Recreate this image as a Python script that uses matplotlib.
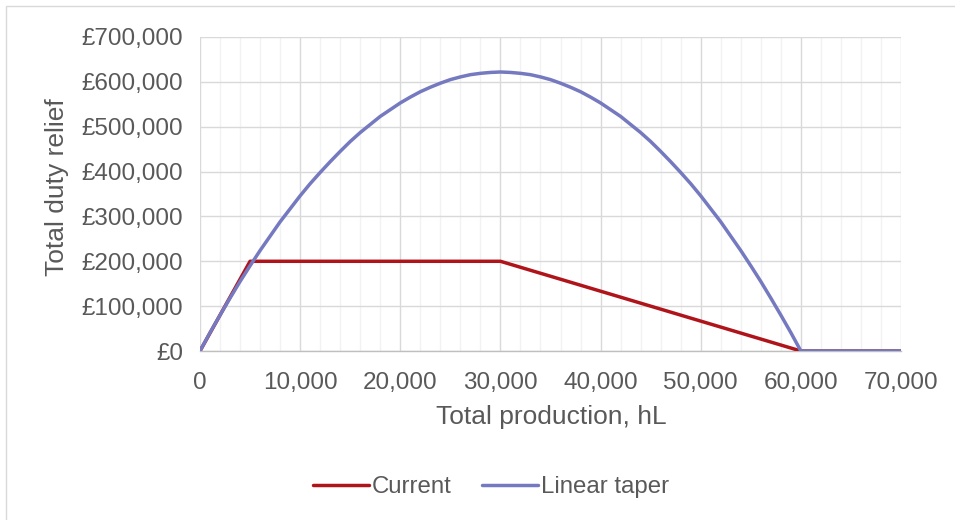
import matplotlib
matplotlib.use("Agg")
import matplotlib.pyplot as plt
from matplotlib.ticker import MultipleLocator, FuncFormatter
from matplotlib.patches import Rectangle

plt.rcParams['font.family'] = ['Liberation Sans', 'DejaVu Sans']

# Data
production = [0, 5000, 30000, 60000, 70000]
current = [0, 200000, 200000, 0, 0]

taper_x = [0, 1000, 2000, 3000, 4000, 5000, 6000, 7000, 8000, 9000,
           10000, 11000, 12000, 13000, 14000, 15000, 16000, 17000, 18000, 19000,
           20000, 21000, 22000, 23000, 24000, 25000, 26000, 27000, 28000, 29000,
           30000, 31000, 32000, 33000, 34000, 35000, 36000, 37000, 38000, 39000,
           40000, 41000, 42000, 43000, 44000, 45000, 46000, 47000, 48000, 49000,
           50000, 51000, 52000, 53000, 54000, 55000, 56000, 57000, 58000, 59000,
           60000, 70000]
taper_y = [0, 41000, 80000, 118000, 155000, 190000, 224000, 256000, 288000, 317000,
           346000, 373000, 398000, 422000, 445000, 467000, 487000, 505000, 523000, 538000,
           553000, 566000, 578000, 588000, 597000, 605000, 611000, 616000, 619000, 621000,
           622000, 621000, 619000, 616000, 611000, 605000, 597000, 588000, 578000, 566000,
           553000, 538000, 523000, 505000, 487000, 467000, 445000, 422000, 398000, 373000,
           346000, 317000, 288000, 256000, 224000, 190000, 155000, 118000, 80000, 41000,
           0, 0]

series_names = ["Current", "Linear taper"]
x_label = "Total production, hL"
y_label = "Total duty relief"

W, H = 955, 520
fig = plt.figure(figsize=(W / 100, H / 100), dpi=100)
ax = fig.add_axes([200 / W, 1 - 351 / H, (901 - 200) / W, (351 - 37) / H])

# chart border
fig.patches.append(Rectangle((6 / W, -0.1), 1.2, (1 - 6 / H) + 0.1, transform=fig.transFigure,
                             fill=False, edgecolor='#D9D9D9', linewidth=1.0))

ax.set_xlim(0, 70000)
ax.set_ylim(0, 700000)
ax.xaxis.set_major_locator(MultipleLocator(10000))
ax.xaxis.set_minor_locator(MultipleLocator(2000))
ax.yaxis.set_major_locator(MultipleLocator(100000))

ax.grid(which='minor', axis='x', color='#F2F2F2', linewidth=1.0, zorder=0)
ax.grid(which='major', axis='x', color='#D9D9D9', linewidth=1.0, zorder=0.5)
ax.grid(which='major', axis='y', color='#D9D9D9', linewidth=1.0, zorder=0.5)
ax.set_axisbelow(True)

for s in ['top', 'right', 'left']:
    ax.spines[s].set_visible(False)
ax.spines['bottom'].set_color('#BFBFBF')
ax.spines['bottom'].set_linewidth(1.0)

ax.tick_params(which='both', length=0)
ax.tick_params(axis='x', pad=15, labelsize=17.5, labelcolor='#595959')
ax.tick_params(axis='y', pad=12, labelsize=17.5, labelcolor='#595959')
ax.xaxis.set_major_formatter(FuncFormatter(lambda v, p: f"{int(v):,}"))
ax.yaxis.set_major_formatter(FuncFormatter(lambda v, p: f"£{int(v):,}"))

ax.plot(production, current, color='#B0141B', linewidth=2.5, label=series_names[0],
        solid_joinstyle='round', solid_capstyle='round', zorder=3)
ax.plot(taper_x, taper_y, color='#7579C0', linewidth=2.5, label=series_names[1],
        solid_joinstyle='round', solid_capstyle='round', zorder=4)

fig.text(551 / W, 1 - 417 / H, x_label, ha='center', va='center', fontsize=19, color='#595959')
fig.text(57 / W, 1 - 187 / H, y_label, ha='center', va='center', rotation=90, fontsize=19,
         color='#595959')

leg = fig.legend(loc='center', bbox_to_anchor=(491 / W, 1 - 487 / H), ncol=2, frameon=False,
                 fontsize=17.3, handlelength=2.35, handletextpad=0.12, columnspacing=1.25)
for t in leg.get_texts():
    t.set_color('#595959')

fig.savefig("out.png", dpi=100)
